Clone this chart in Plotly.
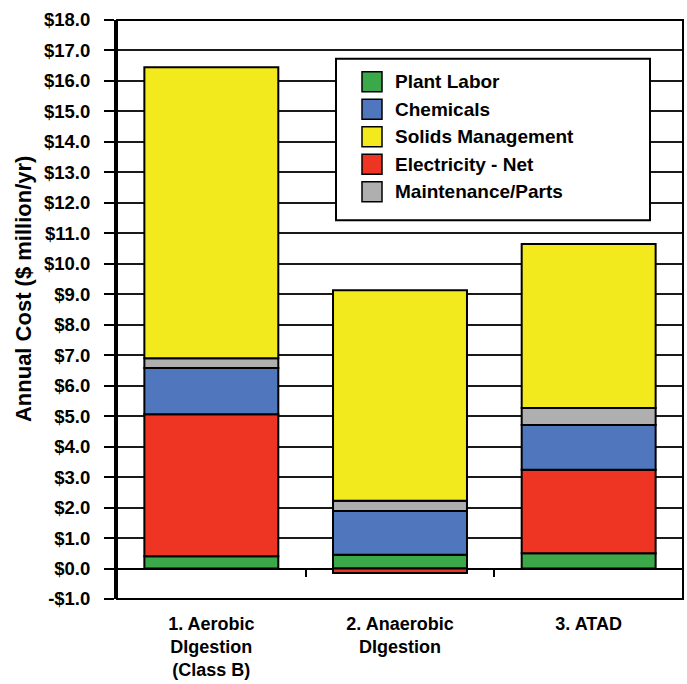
import plotly.graph_objects as go

W, H = 687, 684
ML, MR, MT, MB = 117, 4, 20, 83

categories = ["1. Aerobic<br>DIgestion<br>(Class B)", "2. Anaerobic<br>DIgestion", "3. ATAD"]

plant_labor = [0.40, 0.45, 0.50]
electricity = [4.66, -0.15, 2.74]
chemicals = [1.52, 1.44, 1.47]
maintenance = [0.32, 0.33, 0.56]
solids = [9.55, 6.91, 5.38]

tick_vals = list(range(-1, 19))
tick_text = [("-$%.1f" % abs(v)) if v < 0 else ("$%.1f" % v) for v in tick_vals]

colors = {
    "Plant Labor": "#3BA84A",
    "Chemicals": "#5077BE",
    "Solids Management": "#F2EA1C",
    "Electricity - Net": "#EE3524",
    "Maintenance/Parts": "#AFAFAF",
}

stack = [
    ("Plant Labor", plant_labor),
    ("Electricity - Net", electricity),
    ("Chemicals", chemicals),
    ("Maintenance/Parts", maintenance),
    ("Solids Management", solids),
]
legend_order = ["Plant Labor", "Chemicals", "Solids Management", "Electricity - Net", "Maintenance/Parts"]

FONT = "Liberation Sans, Arial, sans-serif"

fig = go.Figure()
for name, vals in stack:
    fig.add_trace(go.Bar(
        x=categories, y=vals, name=name,
        marker=dict(color=colors[name], line=dict(color="black", width=2)),
        showlegend=False,
    ))

pw = W - ML - MR
ph = H - MT - MB


def px_x(x):
    return (x - ML) / pw


def px_y(y):
    return (H - MB - y) / ph


shapes = []
# plot border
shapes.append(dict(type="rect", xref="paper", yref="paper", x0=0, x1=1, y0=0, y1=1,
                   line=dict(color="black", width=2), layer="above"))
# legend box
shapes.append(dict(type="rect", xref="paper", yref="paper",
                   x0=px_x(336), x1=px_x(650), y0=px_y(221), y1=px_y(59),
                   line=dict(color="black", width=2), fillcolor="white", layer="above"))
annotations = []
row0 = 82
step = 27.6
for i, name in enumerate(legend_order):
    cy = row0 + i * step
    shapes.append(dict(type="rect", xref="paper", yref="paper",
                       x0=px_x(362), x1=px_x(382), y0=px_y(cy + 10), y1=px_y(cy - 10),
                       line=dict(color="black", width=1.5), fillcolor=colors[name], layer="above"))
    annotations.append(dict(xref="paper", yref="paper", x=px_x(393), y=px_y(cy),
                            text=name, showarrow=False, xanchor="left", yanchor="middle",
                            font=dict(family=FONT, size=19, color="black", weight="bold")))

annotations.append(dict(xref="paper", yref="paper", x=px_x(23), y=px_y(290),
                        text="Annual Cost ($ million/yr)", showarrow=False, textangle=-90,
                        xanchor="center", yanchor="middle",
                        font=dict(family=FONT, size=22, color="black", weight="bold")))

fig.update_layout(
    width=W, height=H,
    margin=dict(l=ML, r=MR, t=MT, b=MB, pad=0),
    paper_bgcolor="white", plot_bgcolor="white",
    barmode="relative", bargap=0.29,
    font=dict(family=FONT, color="black"),
    showlegend=False,
    shapes=shapes, annotations=annotations,
    xaxis=dict(
        type="category", range=[-0.5, 2.5],
        anchor="free", position=1 / 19,
        ticks="outside", tickson="boundaries", ticklen=7, tickwidth=2, tickcolor="black",
        showline=False, showgrid=False, zeroline=False,
        ticklabelstandoff=42,
        tickfont=dict(family=FONT, size=18, color="black", weight="bold"),
    ),
    yaxis=dict(
        range=[-1, 18], tickvals=tick_vals, ticktext=tick_text,
        ticks="outside", ticklen=10, tickwidth=2, tickcolor="black",
        showline=True, linecolor="black", linewidth=3,
        showgrid=True, gridcolor="#1a1a1a", gridwidth=1.5,
        zeroline=True, zerolinecolor="black", zerolinewidth=2,
        ticklabelstandoff=10,
        tickfont=dict(family=FONT, size=18.5, color="black", weight="bold"),
    ),
)

fig.write_html("out.html")
